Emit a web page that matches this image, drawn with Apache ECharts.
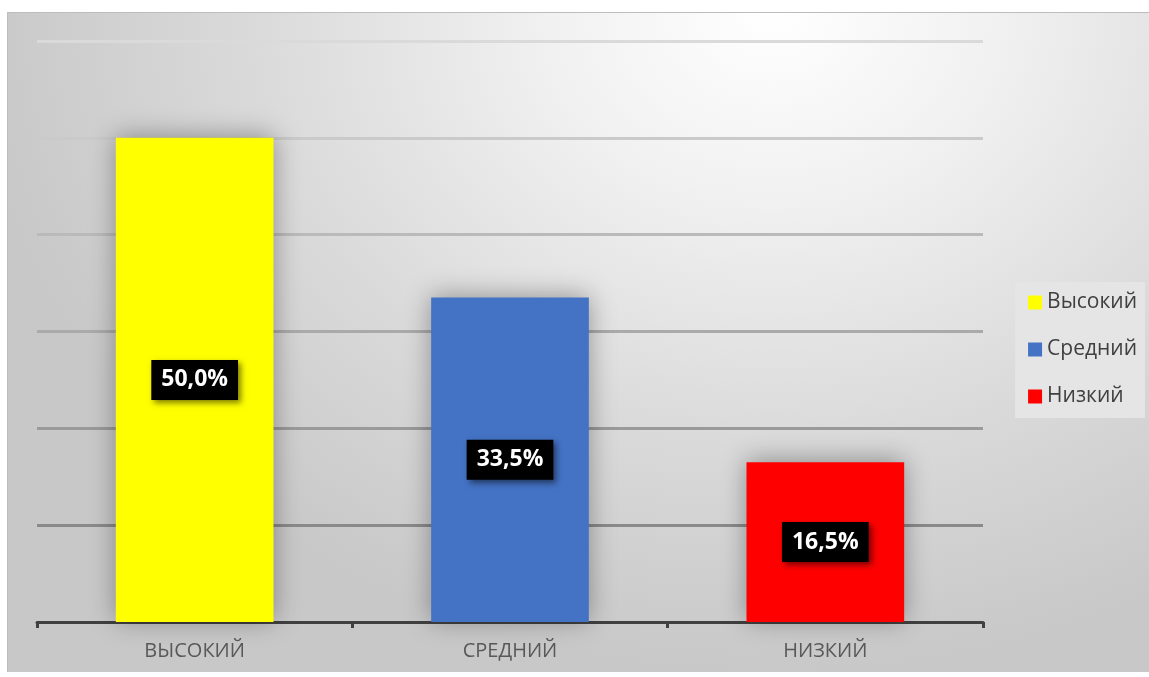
<!DOCTYPE html>
<html>
<head>
<meta charset="utf-8">
<script src="https://cdn.jsdelivr.net/npm/echarts@6/dist/echarts.min.js"></script>
<style>
html,body{margin:0;padding:0;background:#fff;}
#bg{position:absolute;left:7px;top:12px;width:1141px;height:659px;border-top:1px solid #bdbdbd;border-left:1px solid #bdbdbd;
background:radial-gradient(ellipse 70% 100% at 67% 0%, #ffffff 0%, #f1f1f1 28%, #dadada 65%, #c8c8c8 100%);}
#main{position:absolute;left:0;top:0;width:1149px;height:677px;}
</style>
</head>
<body>
<div id="bg"></div>
<div id="main"></div>
<script>
const categories = ['ВЫСОКИЙ', 'СРЕДНИЙ', 'НИЗКИЙ'];
const seriesNames = ['Высокий', 'Средний', 'Низкий'];
const values = [50.0, 33.5, 16.5];
const colors = ['#ffff00', '#4472c4', '#ff0000'];

const chart = echarts.init(document.getElementById('main'));
const series = seriesNames.map((name, i) => ({
  name: name,
  type: 'bar',
  stack: 'all',
  barWidth: '50%',
  data: categories.map((c, j) => (j === i ? values[i] : '-')),
  itemStyle: {
    color: colors[i],
    shadowBlur: 24,
    shadowColor: 'rgba(0,0,0,0.35)',
    shadowOffsetY: -2
  },
  label: {
    show: true,
    position: 'inside',
    formatter: p => p.value.toFixed(1).replace('.', ',') + '%',
    color: '#ffffff',
    fontFamily: 'Open Sans',
    fontWeight: 'bold',
    fontSize: 23,
    lineHeight: 24,
    backgroundColor: '#000000',
    padding: [8, 10, 8, 10],
    shadowBlur: 6,
    shadowColor: 'rgba(0,0,0,0.5)',
    shadowOffsetX: 3,
    shadowOffsetY: 3
  }
}));

chart.setOption({
  animation: false,
  backgroundColor: 'transparent',
  grid: { left: 37, right: 166, top: 41, bottom: 55 },
  legend: {
    orient: 'vertical',
    right: 4,
    top: 282,
    padding: [10, 8, 11, 13],
    itemGap: 26,
    itemWidth: 14,
    itemHeight: 14,
    icon: 'rect',
    backgroundColor: '#e5e5e5',
    textStyle: { color: '#404040', fontSize: 21, lineHeight: 21, fontFamily: 'Open Sans' },
    data: seriesNames
  },
  xAxis: {
    type: 'category',
    data: categories,
    axisLine: { lineStyle: { color: '#404040', width: 3 } },
    axisTick: { show: true, length: 6, lineStyle: { color: '#404040', width: 3 } },
    axisLabel: { color: '#595959', fontSize: 20, fontFamily: 'Open Sans', margin: 19 }
  },
  yAxis: {
    type: 'value',
    min: 0,
    max: 60,
    interval: 10,
    axisLabel: { show: false },
    axisLine: { show: false },
    axisTick: { show: false },
    splitLine: {
      lineStyle: {
        width: 3,
        color: { type: 'linear', x: 0, y: 41, x2: 0, y2: 525, global: true,
          colorStops: [{ offset: 0, color: '#dadada' }, { offset: 1, color: '#8a8a8a' }] }
      }
    }
  },
  series: series
});
</script>
</body>
</html>
